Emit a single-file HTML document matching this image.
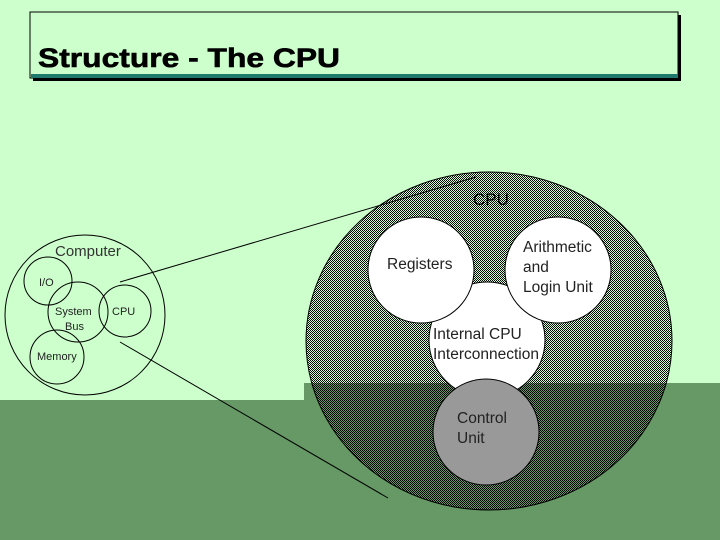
<!DOCTYPE html>
<html><head><style>
html,body{margin:0;padding:0;}
body{width:720px;height:540px;overflow:hidden;background:#ccffcc;position:relative;}
svg{position:absolute;left:0;top:0;}
text{font-family:"Liberation Sans",sans-serif;}
</style></head><body>
<svg width="720" height="540" viewBox="0 0 720 540" shape-rendering="crispEdges">
<defs>
<pattern id="chk" width="2" height="2" patternUnits="userSpaceOnUse">
<rect x="0" y="0" width="1" height="1" fill="#000"/>
<rect x="1" y="1" width="1" height="1" fill="#000"/>
</pattern>
</defs>
<rect x="0" y="400" width="720" height="140" fill="#669966"/>
<rect x="304" y="383" width="416" height="17" fill="#669966"/>
<!-- title box -->
<rect x="33" y="15" width="648" height="66" fill="#000"/>
<rect x="30" y="12" width="648" height="66" fill="#ccffcc" stroke="#000" stroke-width="1"/>
<rect x="31" y="74" width="647" height="4" fill="#1f7a6e"/>
<text x="38" y="67" font-size="27" font-weight="bold" fill="#000" stroke="#000" stroke-width="0.6" textLength="302" lengthAdjust="spacingAndGlyphs">Structure - The CPU</text>
<g shape-rendering="auto">
<line x1="120" y1="282" x2="476" y2="177" stroke="#000"/>
<line x1="120" y1="342" x2="388" y2="498" stroke="#000"/>
<!-- big circle -->
<ellipse cx="489" cy="341" rx="183" ry="169" fill="url(#chk)" stroke="#000" stroke-width="1"/>
<circle cx="487" cy="340" r="58" fill="#fff" stroke="#000"/>
<circle cx="421" cy="270" r="53" fill="#fff" stroke="#000"/>
<circle cx="558" cy="270" r="53" fill="#fff" stroke="#000"/>
<circle cx="486" cy="432" r="53" fill="#999" stroke="#000"/>
<text x="473" y="205" font-size="17" fill="#000">CPU</text>
<text x="387" y="269" font-size="15.5" fill="#222">Registers</text>
<text x="523" y="252" font-size="15.5" fill="#222">Arithmetic</text>
<text x="523" y="272" font-size="15.5" fill="#222">and</text>
<text x="523" y="292" font-size="15.5" fill="#222">Login Unit</text>
<text x="433" y="339" font-size="15.5" fill="#222">Internal CPU</text>
<text x="433" y="359" font-size="15.5" fill="#222">Interconnection</text>
<text x="457" y="423" font-size="15.5" fill="#222">Control</text>
<text x="457" y="443" font-size="15.5" fill="#222">Unit</text>
<!-- small diagram -->
<g fill="none" stroke="#000">
<circle cx="85" cy="315" r="80"/>
<circle cx="48" cy="281" r="24"/>
<circle cx="78" cy="312" r="30"/>
<circle cx="125" cy="311" r="26"/>
<circle cx="57" cy="357" r="27"/>
</g>
<text x="55" y="256" font-size="15" fill="#333">Computer</text>
<text x="39" y="286" font-size="11" fill="#222">I/O</text>
<text x="55" y="315" font-size="11" fill="#222">System</text>
<text x="65" y="330" font-size="11" fill="#222">Bus</text>
<text x="112" y="315" font-size="11" fill="#222">CPU</text>
<text x="37" y="360" font-size="11" fill="#222">Memory</text>
</g>
</svg>
</body></html>
